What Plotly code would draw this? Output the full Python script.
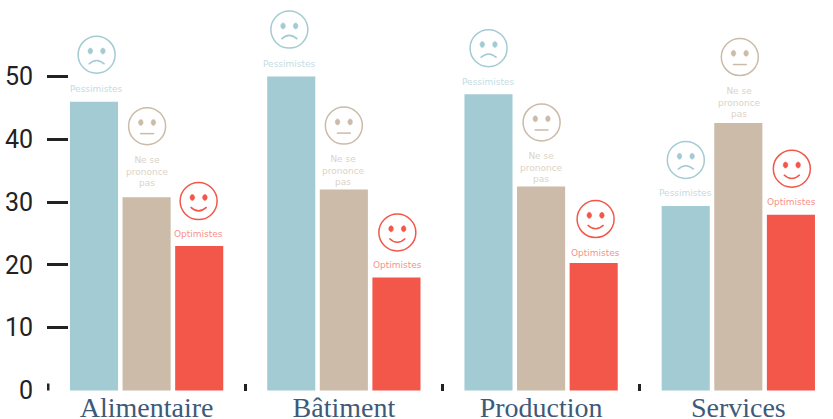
import plotly.graph_objects as go

categories = ["Alimentaire", "Bâtiment", "Production", "Services"]
pessimistes = [46, 50, 47.2, 29.4]
ne_se_prononce = [30.8, 32, 32.5, 42.6]
optimistes = [23, 18, 20.3, 28]
y_ticks = [0, 10, 20, 30, 40, 50]
names = ["Pessimistes", "Ne se<br>prononce<br>pas", "Optimistes"]

BLUE, TAN, RED = "#A3CBD3", "#CBBBA8", "#F25749"
colors = [BLUE, TAN, RED]
series = [pessimistes, ne_se_prononce, optimistes]

# decoration offsets (px): face centre relative to the group centre / bar top
face_dx = [[-50, 0.5, 52], [-54.5, 0, 53.5], [-52.5, 0.5, 54.5], [-52.5, 1.5, 53.5]]
face_dy = [[47, 71, 45], [47, 64, 45], [46, 64, 44], [46, 66, 46]]
label_dy = [[13, 26, 12], [13, 19, 12], [12, 19, 10], [13, 21, 13]]

fig = go.Figure()
for s, c, n in zip(series, colors, ["Pessimistes", "Ne se prononce pas", "Optimistes"]):
    fig.add_bar(x=categories, y=s, name=n, marker=dict(color=c, line_width=0))


def ellipse(cx, cy, rx, ry):
    kx, ky = rx * 0.5523, ry * 0.5523
    return (f"M {cx-rx} {cy} "
            f"C {cx-rx} {cy+ky} {cx-kx} {cy+ry} {cx} {cy+ry} "
            f"C {cx+kx} {cy+ry} {cx+rx} {cy+ky} {cx+rx} {cy} "
            f"C {cx+rx} {cy-ky} {cx+kx} {cy-ry} {cx} {cy-ry} "
            f"C {cx-kx} {cy-ry} {cx-rx} {cy-ky} {cx-rx} {cy} Z")


def mouth(kind, cx, cy):
    # pixel-sized shape space points upwards
    if kind == 0:
        return f"M {cx-8} {cy-9.5} Q {cx} {cy-2} {cx+8} {cy-9.5}"
    if kind == 1:
        return f"M {cx-7} {cy-7.5} L {cx+7} {cy-7.5}"
    return f"M {cx-8} {cy-6} Q {cx} {cy-13.5} {cx+8} {cy-6}"


shapes, annotations = [], []
for g, cat in enumerate(categories):
    for k, s in enumerate(series):
        dx, dy = face_dx[g][k], face_dy[g][k]
        base = dict(xref="x", yref="y", xsizemode="pixel", ysizemode="pixel",
                    xanchor=g, yanchor=s[g], type="path")
        shapes.append(dict(base, path=ellipse(dx, dy, 18.5, 18.5),
                           line=dict(color=colors[k], width=1.5)))
        for ex in (-6.3, 6.3):
            shapes.append(dict(base, path=ellipse(dx + ex, dy + 3.7, 2.3, 3),
                               fillcolor=colors[k], line=dict(color=colors[k], width=0.5)))
        shapes.append(dict(base, path=mouth(k, dx, dy),
                           line=dict(color=colors[k], width=1.5)))
        annotations.append(dict(x=g, y=s[g], xref="x", yref="y", text=names[k],
                                showarrow=False, xshift=dx, yshift=label_dy[g][k],
                                yanchor="middle", align="center",
                                font=dict(family="DejaVu Sans", size=9, color=colors[k]),
                                opacity=0.65))

# leftmost category boundary tick, which the axis itself leaves out
shapes.append(dict(type="line", xref="x", yref="y", x0=-0.5, x1=-0.5,
                   ysizemode="pixel", yanchor=0, y0=0, y1=7,
                   line=dict(color="#222", width=3)))

fig.update_layout(
    width=833, height=419, margin=dict(l=47, r=0, t=0, b=28, autoexpand=False),
    paper_bgcolor="white", plot_bgcolor="white", showlegend=False,
    barmode="group", bargap=0.2, bargroupgap=0.0857,
    shapes=shapes, annotations=annotations,
    xaxis=dict(type="category", range=[-0.505, 3.48], tickson="boundaries",
               ticks="inside", ticklen=7, tickwidth=3, tickcolor="#222",
               showgrid=False, zeroline=False, showline=False,
               ticklabelstandoff=-3,
               tickfont=dict(family="Liberation Serif", size=28, color="#3D5A78")),
    yaxis=dict(range=[-0.08, 62.2], tickvals=y_ticks, ticks="inside", ticklen=21, tickwidth=3,
               tickcolor="#222", showgrid=False, zeroline=False, showline=False,
               ticklabelstandoff=13,
               tickfont=dict(family="Roboto", size=25, color="#222")),
)
fig.write_html("out.html", config={"displayModeBar": False},
               post_script="document.body.style.margin='0';")
